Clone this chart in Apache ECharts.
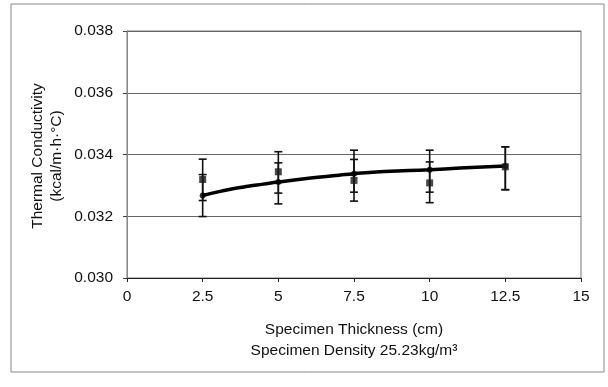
<!DOCTYPE html>
<html>
<head>
<meta charset="utf-8">
<script src="https://cdn.jsdelivr.net/npm/echarts@6/dist/echarts.min.js"></script>
<style>html,body{margin:0;padding:0;background:#fff;}#c{width:608px;height:387px;}</style>
</head>
<body>
<div id="c"></div>
<script>
// ---- data ----
var thickness = [2.5, 5, 7.5, 10, 12.5];
var measured = [0.03319, 0.03344, 0.03316, 0.03308, 0.03360];
var measuredHigh = [0.03385, 0.03409, 0.03384, 0.03376, 0.03425];
var measuredLow = [0.03251, 0.03275, 0.03249, 0.03244, 0.03286];
var fitAtPoints = [0.03267, 0.03311, 0.03338, 0.03351, 0.03363];
var fitHigh = [0.03335, 0.03373, 0.03414, 0.03414, 0.03425];
var fitLow = [0.03199, 0.03240, 0.03278, 0.03278, 0.03286];
var curveX = [2.5, 3, 3.5, 4, 4.5, 5, 6, 7, 7.5, 8.5, 10, 11, 12.5];
var curveY = [0.03267, 0.03279, 0.03289, 0.03297, 0.03304, 0.03311, 0.03323, 0.03333, 0.03338, 0.03345, 0.03351, 0.03356, 0.03363];
var xTicks = ['0', '2.5', '5', '7.5', '10', '12.5', '15'];
var yTicks = ['0.030', '0.032', '0.034', '0.036', '0.038'];

var FONT = '"Liberation Sans", Arial, sans-serif';
var FS = 15.5;

function errData(lo, hi) {
  return thickness.map(function (x, i) { return [x, lo[i], hi[i]]; });
}
function errRender(params, api) {
  var x = api.value(0);
  var p1 = api.coord([x, api.value(2)]);
  var p2 = api.coord([x, api.value(1)]);
  var w = 4;
  var st = { stroke: '#111', lineWidth: 1.6 };
  return {
    type: 'group',
    children: [
      { type: 'line', shape: { x1: p1[0], y1: p1[1], x2: p2[0], y2: p2[1] }, style: st },
      { type: 'line', shape: { x1: p1[0] - w, y1: p1[1], x2: p1[0] + w, y2: p1[1] }, style: st },
      { type: 'line', shape: { x1: p2[0] - w, y1: p2[1], x2: p2[0] + w, y2: p2[1] }, style: st }
    ]
  };
}

var chart = echarts.init(document.getElementById('c'));
chart.setOption({
  animation: false,
  backgroundColor: '#fff',
  grid: { left: 127, right: 27, top: 31, bottom: 109, show: true, borderColor: '#777', borderWidth: 1 },
  xAxis: {
    type: 'value', min: 0, max: 15, interval: 2.5,
    axisLine: { lineStyle: { color: '#222', width: 1 } },
    axisTick: { show: true, length: 4, lineStyle: { color: '#222' } },
    splitLine: { show: false },
    axisLabel: {
      color: '#111', fontSize: FS, fontFamily: FONT, margin: 11,
      formatter: function (v) { return xTicks[Math.round(v / 2.5)]; }
    }
  },
  yAxis: {
    type: 'value', min: 0.030, max: 0.038, interval: 0.002,
    axisLine: { show: true, lineStyle: { color: '#888', width: 1 } },
    axisTick: { show: true, length: 4, lineStyle: { color: '#444' } },
    splitLine: { show: true, lineStyle: { color: '#666', width: 1 } },
    axisLabel: {
      color: '#111', fontSize: FS, fontFamily: FONT, margin: 14,
      formatter: function (v) { return yTicks[Math.round((v - 0.030) / 0.002)]; }
    }
  },
  series: [
    {
      type: 'custom', renderItem: errRender, data: errData(measuredLow, measuredHigh),
      encode: { x: 0, y: [1, 2] }, z: 3
    },
    {
      type: 'custom', renderItem: errRender, data: errData(fitLow, fitHigh),
      encode: { x: 0, y: [1, 2] }, z: 3
    },
    {
      type: 'line', smooth: true, showSymbol: false,
      data: curveX.map(function (x, i) { return [x, curveY[i]]; }),
      lineStyle: { color: '#000', width: 3.5 }, z: 4
    },
    {
      type: 'scatter', symbol: 'circle', symbolSize: 6,
      data: thickness.map(function (x, i) { return [x, fitAtPoints[i]]; }),
      itemStyle: { color: '#000' }, z: 5
    },
    {
      type: 'scatter', symbol: 'rect', symbolSize: 7,
      data: thickness.map(function (x, i) { return [x, measured[i]]; }),
      itemStyle: { color: '#1a1a1a' }, z: 5
    }
  ],
  graphic: [
    { type: 'rect', shape: { x: 11, y: 4, width: 593, height: 368 }, style: { fill: 'none', stroke: '#888', lineWidth: 1 }, silent: true },
    { type: 'text', x: 38, y: 156, rotation: Math.PI / 2,
      style: { text: 'Thermal Conductivity', fill: '#111', font: FS + 'px ' + FONT, textAlign: 'center', textVerticalAlign: 'middle' } },
    { type: 'text', x: 57, y: 156, rotation: Math.PI / 2,
      style: { text: '(kcal/m·h·°C)', fill: '#111', font: FS + 'px ' + FONT, textAlign: 'center', textVerticalAlign: 'middle' } },
    { type: 'text', x: 354, y: 330,
      style: { text: 'Specimen Thickness (cm)', fill: '#111', font: FS + 'px ' + FONT, textAlign: 'center', textVerticalAlign: 'middle' } },
    { type: 'text', x: 354, y: 351,
      style: { text: 'Specimen Density 25.23kg/m³', fill: '#111', font: FS + 'px ' + FONT, textAlign: 'center', textVerticalAlign: 'middle' } }
  ]
});
</script>
</body>
</html>
